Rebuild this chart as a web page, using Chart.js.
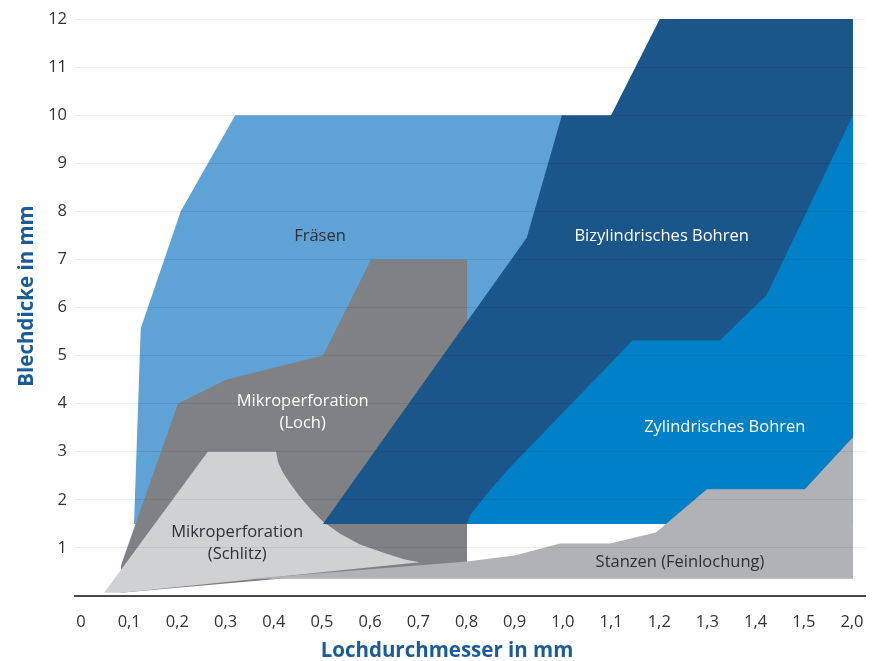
<!DOCTYPE html>
<html>
<head>
<meta charset="utf-8">
<script src="https://cdn.jsdelivr.net/npm/chart.js@4.4.1/dist/chart.umd.min.js"></script>
<style>
    html, body { margin: 0; padding: 0; background: #fff; }
    #wrap { width: 881px; height: 661px; }
</style>
</head>
<body>
<div id="wrap"><canvas id="processChart" width="881" height="661"></canvas></div>
<script>
// x in label-index units (0 = "0", 16 = "2,0")
const xLabels = ['0', '0,1', '0,2', '0,3', '0,4', '0,5', '0,6', '0,7', '0,8', '0,9', '1,0', '1,1', '1,2', '1,3', '1,4', '1,5', '2,0'];
const yTicks = [0, 1, 2, 3, 4, 5, 6, 7, 8, 9, 10, 11, 12];

const fraesen = [[1.10, 1.5], [1.24, 5.57], [2.07, 8.0], [3.2, 10.0], [10.0, 10.0], [10.0, 1.5]];
const mikroLoch = [[0.83, 0.07], [0.83, 0.64], [2.01, 4.0], [3.01, 4.5], [5.02, 5.0], [6.02, 7.0], [8.01, 7.0], [8.01, 0.7]];
const mikroSchlitz = [[0.48, 0.07], [2.63, 3.0], [4.05, 3.0], [4.09, 2.78], [4.19, 2.57], [4.34, 2.34], [4.54, 2.07], [4.77, 1.8], [5.02, 1.55], [5.37, 1.3], [5.79, 1.07], [6.31, 0.89], [6.72, 0.76], [7.03, 0.7], [0.83, 0.07]];
const bizylindrisch = [[5.02, 1.5], [9.25, 7.45], [9.98, 10.0], [11.0, 10.0], [12.01, 12.0], [16.02, 12.0], [16.02, 1.5]];
const zylindrisch = [[8.01, 1.5], [8.07, 1.68], [8.49, 2.2], [8.84, 2.61], [11.45, 5.32], [13.26, 5.32], [14.23, 6.26], [16.02, 10.0], [16.02, 1.5]];
const stanzen = [[3.51, 0.36], [8.01, 0.72], [9.0, 0.84], [9.94, 1.09], [10.98, 1.09], [11.93, 1.32], [12.99, 2.22], [15.02, 2.22], [16.02, 3.3], [16.02, 0.36]];

const areaNames = ['Fräsen', 'Mikroperforation (Loch)', 'Mikroperforation (Schlitz)', 'Bizylindrisches Bohren', 'Zylindrisches Bohren', 'Stanzen (Feinlochung)'];

function toPoints(arr) {
    return arr.map(p => ({ x: p[0], y: p[1] }));
}

function area(label, points, color, order) {
    return {
        label: label,
        data: toPoints(points),
        showLine: true,
        fill: 'shape',
        backgroundColor: color,
        borderWidth: 0,
        borderColor: color,
        pointRadius: 0,
        tension: 0,
        order: order
    };
}

// labels inside the areas
const areaLabels = [
    { lines: ['Fräsen'], x: 4.96, y: 7.49, color: '#2f3033' },
    { lines: ['Bizylindrisches Bohren'], x: 12.05, y: 7.49, color: '#ffffff' },
    { lines: ['Mikroperforation', '(Loch)'], x: 4.6, y: 3.82, color: '#ffffff' },
    { lines: ['Zylindrisches Bohren'], x: 13.36, y: 3.51, color: '#ffffff' },
    { lines: ['Mikroperforation', '(Schlitz)'], x: 3.24, y: 1.09, color: '#2f3033' },
    { lines: ['Stanzen (Feinlochung)'], x: 12.43, y: 0.7, color: '#2f3033' }
];

const titleColor = '#1b5b96';
const titleFont = 'bold 20.5px "Open Sans"';

const areaLabelPlugin = {
    id: 'areaLabels',
    afterDatasetsDraw(chart) {
        const ctx = chart.ctx;
        const xs = chart.scales.x, ys = chart.scales.y;
        ctx.save();
        ctx.font = '16.5px "Open Sans"';
        ctx.textAlign = 'center';
        ctx.textBaseline = 'middle';
        areaLabels.forEach(l => {
            const px = xs.getPixelForValue(l.x);
            const py = ys.getPixelForValue(l.y);
            const lh = 22;
            const start = py - (l.lines.length - 1) * lh / 2;
            ctx.fillStyle = l.color;
            l.lines.forEach((t, i) => ctx.fillText(t, px, start + i * lh));
        });
        ctx.restore();
    },
    afterDraw(chart) {
        // axis titles, placed like the original (slightly left / above the plot centre)
        const ctx = chart.ctx;
        ctx.save();
        ctx.font = titleFont;
        ctx.fillStyle = titleColor;
        ctx.textAlign = 'center';
        ctx.textBaseline = 'middle';
        ctx.fillText('Lochdurchmesser in mm', 447, 651);
        ctx.translate(27, 296);
        ctx.rotate(-Math.PI / 2);
        ctx.fillText('Blechdicke in mm', 0, 0);
        ctx.restore();
    }
};

new Chart(document.getElementById('processChart'), {
    type: 'scatter',
    data: {
        datasets: [
            area(areaNames[0], fraesen, '#5fa2d6', 6),
            area(areaNames[1], mikroLoch, '#808184', 5),
            area(areaNames[2], mikroSchlitz, '#d0d1d3', 4),
            area(areaNames[3], bizylindrisch, '#1b568a', 3),
            area(areaNames[4], zylindrisch, '#0080c6', 2),
            area(areaNames[5], stanzen, '#b1b2b5', 1)
        ]
    },
    options: {
        responsive: false,
        animation: false,
        layout: { padding: { top: 19, right: 16, left: 0, bottom: 0 } },
        plugins: {
            legend: { display: false },
            tooltip: { enabled: false }
        },
        scales: {
            x: {
                type: 'linear',
                min: -0.125,
                max: 16.27,
                afterBuildTicks: scale => { scale.ticks = xLabels.map((l, i) => ({ value: i })); },
                afterFit: scale => { scale.height = 65; },
                grid: { display: false },
                border: { color: '#4a4a4a', width: 2 },
                ticks: {
                    color: '#333333',
                    font: { family: '"Open Sans"', size: 16.5 },
                    padding: 8,
                    maxRotation: 0,
                    autoSkip: false,
                    callback: value => xLabels[value]
                }
            },
            y: {
                min: 0,
                max: 12,
                afterBuildTicks: scale => { scale.ticks = yTicks.map(v => ({ value: v })); },
                afterFit: scale => { scale.width = 75; },
                grid: { color: 'rgba(0,0,0,0.07)', z: 1, drawTicks: false },
                border: { display: false },
                ticks: {
                    color: '#333333',
                    font: { family: '"Open Sans"', size: 16.5 },
                    padding: 8,
                    callback: value => value === 0 ? '' : String(value)
                }
            }
        }
    },
    plugins: [areaLabelPlugin]
});
</script>
</body>
</html>
